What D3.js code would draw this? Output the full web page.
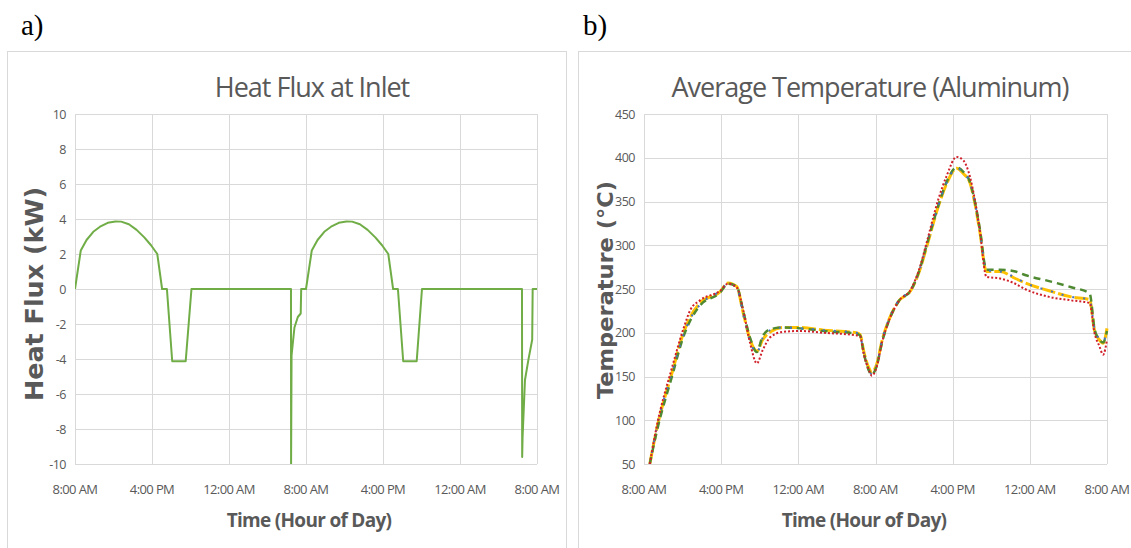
<!DOCTYPE html>
<html>
<head>
<meta charset="utf-8">
<script src="https://cdn.jsdelivr.net/npm/d3@7"></script>
<style>
  html, body { margin: 0; padding: 0; background: #fff; }
  svg { display: block; }
</style>
</head>
<body>
<div id="chart"></div>
<script>
// Shared x axis tick labels (every 8 hours from 8:00 AM)
const timeTickHours = [0, 8, 16, 24, 32, 40, 48];
const timeTickLabels = ['8:00 AM', '4:00 PM', '12:00 AM', '8:00 AM', '4:00 PM', '12:00 AM', '8:00 AM'];

// Heat flux at inlet (kW) vs hours after 8:00 AM
const fluxHours = [0, 0.6, 1.2, 1.9, 2.6, 3.4, 4.2, 4.8, 5.6, 6.4, 7.2, 7.9, 8.55,
    9.05, 9.55, 10.1, 11.5, 12.1,
    22.44, 22.45, 22.5, 22.8, 23.15, 23.45, 23.5, 24.0,
    24.6, 25.2, 25.9, 26.6, 27.4, 28.2, 28.8, 29.6, 30.4, 31.2, 31.9, 32.55,
    33.05, 33.55, 34.1, 35.5, 36.05,
    46.44, 46.46, 46.5, 46.75, 47.1, 47.5, 47.55, 48];
const fluxKW = [0, 2.2, 2.8, 3.27, 3.56, 3.78, 3.86, 3.85, 3.7, 3.38, 2.95, 2.5, 2.0,
    0, 0, -4.13, -4.13, 0,
    0, -10, -3.8, -2.2, -1.6, -1.4, 0, 0,
    2.2, 2.8, 3.27, 3.56, 3.78, 3.86, 3.85, 3.7, 3.38, 2.95, 2.5, 2.0,
    0, 0, -4.13, -4.13, 0,
    0, -9.6, -8.5, -5.2, -4.06, -2.9, 0, 0];
const fluxTicks = [-10, -8, -6, -4, -2, 0, 2, 4, 6, 8, 10];

// Average aluminum temperature (°C), four cases on the same time grid
const tempHours = [0.6, 1.3, 2.9, 4.1, 4.8, 5.8, 7.9, 8.7, 9.6, 10.3, 11.0, 11.7, 12.3, 13.1, 14.4,
    16.2, 18.6, 22.0, 22.4, 22.8, 23.3, 23.6, 24.1, 24.7, 25.4, 26.4, 27.7, 28.6, 29.3, 30.5,
    31.4, 32.4, 33.1, 33.8, 34.3, 34.8, 35.5, 36.9, 38.5, 39.5, 42.0, 44.3, 46.2, 46.7, 47.2,
    47.6, 48.0];
const tempRed = [50, 92, 160, 205, 226, 237, 248, 256, 252, 225, 188, 165, 180, 195, 201,
    202, 200, 197, 196, 175, 158, 151, 160, 190, 214, 236, 250, 275, 303, 352,
    380, 401, 397, 378, 352, 318, 264, 262, 256, 250, 241, 237, 234, 200, 185,
    175, 192];
const tempYellow = [50, 89, 154, 200, 218, 234, 247, 257, 253, 222, 192, 179, 192, 201, 206,
    206, 203, 200, 198, 178, 160, 155, 163, 192, 215, 236, 249, 272, 298, 344,
    371, 388, 382, 371, 348, 317, 270, 270, 262, 257, 248, 241, 238, 203, 192,
    188, 205];
const tempBlue = [50, 90, 155, 198, 216, 232, 248, 256, 252, 220, 190, 177, 194, 203, 206,
    205, 203, 200, 197, 176, 158, 153, 162, 193, 216, 237, 250, 273, 300, 345,
    372, 388, 383, 371, 349, 318, 271, 270, 263, 257, 248, 241, 238, 205, 193,
    190, 204];
const tempGreen = [50, 86, 150, 196, 214, 231, 246, 256, 253, 224, 194, 178, 196, 204, 206,
    205, 202, 199, 197, 176, 157, 152, 161, 190, 214, 236, 249, 273, 300, 345,
    373, 389, 384, 372, 350, 320, 272, 272, 270, 266, 259, 252, 245, 205, 192,
    189, 202];
const tempTicks = [50, 100, 150, 200, 250, 300, 350, 400, 450];

const TEXT = '#595959';
const GRID = '#d9d9d9';
const LABEL_FONT = '"Open Sans", sans-serif';

//////////////////////////////////////////////////////////////////////
// Draw one Excel-style panel with grid, ticks and titles
//////////////////////////////////////////////////////////////////////
function _drawPanel(svg, cfg) {
    const g = svg.append('g');

    // Panel frame
    g.append('rect')
        .attr('x', cfg.frame[0] + 0.5)
        .attr('y', cfg.frame[1] + 0.5)
        .attr('width', cfg.frame[2])
        .attr('height', cfg.frame[3])
        .attr('fill', '#fff')
        .attr('stroke', GRID);

    const x = d3.scaleLinear().domain([0, 48]).range([cfg.left, cfg.right]);
    const y = d3.scaleLinear().domain(cfg.yDomain).range([cfg.bottom, cfg.top]);

    // Horizontal grid
    g.append('g')
        .selectAll('line')
        .data(cfg.yTicks)
        .join('line')
        .attr('x1', cfg.left)
        .attr('x2', cfg.right)
        .attr('y1', d => Math.round(y(d)) + 0.5)
        .attr('y2', d => Math.round(y(d)) + 0.5)
        .attr('stroke', GRID);

    // Vertical grid
    g.append('g')
        .selectAll('line')
        .data(timeTickHours)
        .join('line')
        .attr('x1', d => Math.round(x(d)) + 0.5)
        .attr('x2', d => Math.round(x(d)) + 0.5)
        .attr('y1', cfg.top)
        .attr('y2', cfg.bottom)
        .attr('stroke', GRID);

    // Y tick labels
    g.append('g')
        .selectAll('text')
        .data(cfg.yTicks)
        .join('text')
        .attr('x', cfg.left - 9)
        .attr('y', d => y(d) + 4.5)
        .attr('text-anchor', 'end')
        .attr('font-family', LABEL_FONT)
        .attr('font-size', 12.5)
        .attr('letter-spacing', -0.5)
        .attr('fill', TEXT)
        .text(d => d);

    // X tick labels
    g.append('g')
        .selectAll('text')
        .data(timeTickHours)
        .join('text')
        .attr('x', d => x(d))
        .attr('y', cfg.bottom + 30)
        .attr('text-anchor', 'middle')
        .attr('font-family', LABEL_FONT)
        .attr('font-size', 13)
        .attr('letter-spacing', -0.6)
        .attr('fill', TEXT)
        .text((d, i) => timeTickLabels[i]);

    // Chart title
    g.append('text')
        .attr('x', cfg.titleX)
        .attr('y', 97)
        .attr('text-anchor', 'middle')
        .attr('font-family', LABEL_FONT)
        .attr('font-size', 27)
        .attr('letter-spacing', -1)
        .attr('fill', TEXT)
        .text(cfg.title);

    // X axis title
    g.append('text')
        .attr('x', cfg.xTitleX)
        .attr('y', cfg.bottom + 63)
        .attr('text-anchor', 'middle')
        .attr('font-family', LABEL_FONT)
        .attr('font-weight', 'bold')
        .attr('font-size', 19)
        .attr('letter-spacing', -0.7)
        .attr('fill', TEXT)
        .text('Time (Hour of Day)');

    // Y axis title
    g.append('text')
        .attr('transform', `translate(${cfg.yTitleX},${cfg.yTitleY}) rotate(-90)`)
        .attr('text-anchor', 'middle')
        .attr('font-family', '"DejaVu Sans", Verdana, sans-serif')
        .attr('font-weight', 'bold')
        .attr('font-size', cfg.yTitleSize)
        .attr('fill', TEXT)
        .attr('textLength', cfg.yTitleWidth)
        .attr('lengthAdjust', 'spacingAndGlyphs')
        .text(cfg.yTitle);

    // Clip lines to the plot area
    g.append('clipPath')
        .attr('id', cfg.clipId)
        .append('rect')
        .attr('x', cfg.left)
        .attr('y', cfg.top - 2)
        .attr('width', cfg.right - cfg.left + 2)
        .attr('height', cfg.bottom - cfg.top + 2);

    return { g, x, y };
}

//////////////////////////////////////////////////////////////////////
// Build the figure
//////////////////////////////////////////////////////////////////////
function initCharts() {
    const svg = d3.select('#chart')
        .append('svg')
        .attr('width', 1131)
        .attr('height', 548);

    // Panel letters
    svg.append('text')
        .attr('x', 21).attr('y', 35)
        .attr('font-family', '"Liberation Serif", "Times New Roman", serif')
        .attr('font-size', 29)
        .attr('fill', '#000')
        .text('a)');
    svg.append('text')
        .attr('x', 583).attr('y', 35)
        .attr('font-family', '"Liberation Serif", "Times New Roman", serif')
        .attr('font-size', 29)
        .attr('fill', '#000')
        .text('b)');

    // a) Heat flux
    const flux = _drawPanel(svg, {
        frame: [7, 51, 559, 500],
        left: 75, right: 537, top: 114, bottom: 464,
        yDomain: [-10, 10], yTicks: fluxTicks,
        title: 'Heat Flux at Inlet', titleX: 312,
        xTitleX: 309,
        yTitle: 'Heat Flux (kW)', yTitleX: 43, yTitleY: 294, yTitleWidth: 214, yTitleSize: 24,
        clipId: 'clip-flux'
    });

    const fluxPts = fluxHours.map((h, i) => [h, fluxKW[i]]);
    flux.g.append('path')
        .datum(fluxPts)
        .attr('clip-path', 'url(#clip-flux)')
        .attr('fill', 'none')
        .attr('stroke', '#70ad47')
        .attr('stroke-width', 2)
        .attr('stroke-linejoin', 'round')
        .attr('d', d3.line()
            .x(d => flux.x(d[0]))
            .y(d => flux.y(d[1])));

    // b) Average temperature
    const temp = _drawPanel(svg, {
        frame: [578, 51, 560, 500],
        left: 644, right: 1107, top: 114, bottom: 464,
        yDomain: [50, 450], yTicks: tempTicks,
        title: 'Average Temperature (Aluminum)', titleX: 870,
        xTitleX: 864,
        yTitle: 'Temperature (°C)', yTitleX: 613, yTitleY: 290, yTitleWidth: 218, yTitleSize: 21,
        clipId: 'clip-temp'
    });

    const tempLine = d3.line()
        .x(d => temp.x(d[0]))
        .y(d => temp.y(d[1]))
        .curve(d3.curveMonotoneX);

    const series = [
        { values: tempYellow, color: '#ffc000', width: 3, dash: '14,3' },
        { values: tempGreen, color: '#4f8a32', width: 2.5, dash: '7,5' },
        { values: tempBlue, color: '#4472c4', width: 2, dash: '2,9' },
        { values: tempRed, color: '#d0202a', width: 2, dash: '2,2' }
    ];

    series.forEach(s => {
        temp.g.append('path')
            .datum(tempHours.map((h, i) => [h, s.values[i]]))
            .attr('clip-path', 'url(#clip-temp)')
            .attr('fill', 'none')
            .attr('stroke', s.color)
            .attr('stroke-width', s.width)
            .attr('stroke-dasharray', s.dash)
            .attr('d', tempLine);
    });
}

document.addEventListener('DOMContentLoaded', initCharts);
</script>
</body>
</html>
